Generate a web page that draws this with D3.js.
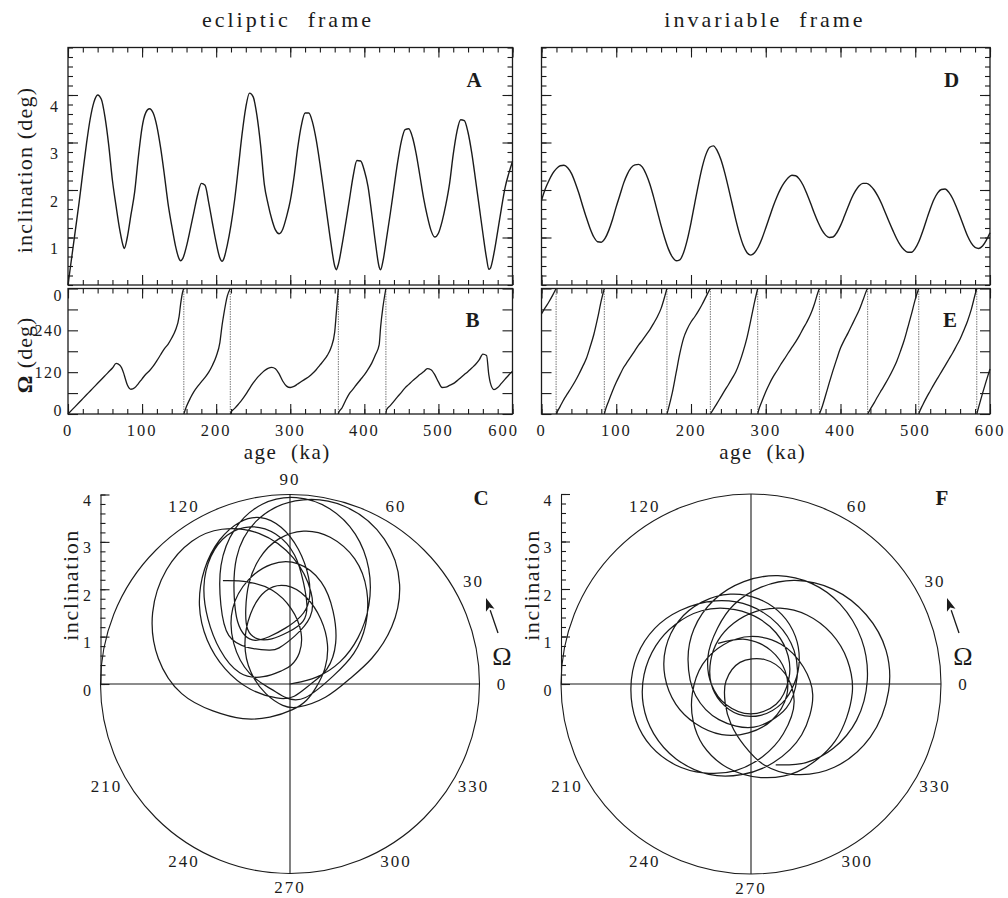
<!DOCTYPE html>
<html>
<head>
<meta charset="utf-8">
<title>Orbital inclination and node in the ecliptic and invariable frames</title>
<script src="https://cdn.jsdelivr.net/npm/d3@7/dist/d3.min.js"></script>
<style>
  html, body { margin: 0; padding: 0; background: #fff; }
  svg { display: block; }
  text { font-family: "Liberation Serif", "Times New Roman", Times, serif; fill: #1b1b1b; }
</style>
</head>
<body>
<svg id="fig" width="1008" height="898" viewBox="0 0 1008 898"></svg>
<script>
// ---------------- data ----------------
// ecliptic frame: age (ka), inclination (deg), node longitude (deg)
const eclAge = [
  0, 5, 10, 15, 20, 25, 30, 35, 40, 45, 50, 55, 60, 65, 70, 75, 76,
  80, 85, 90, 95, 100, 105, 110, 115, 120, 125, 130, 135, 140, 145, 150, 152,
  155, 160, 165, 170, 175, 180, 185, 190, 195, 200, 205, 208,
  210, 215, 220, 225, 230, 235, 240, 245, 250, 255, 260, 265, 270, 275, 280, 285,
  290, 295, 300, 305, 310, 315, 320, 325, 330, 335, 340, 345, 350, 355, 360, 362,
  365, 370, 375, 380, 385, 390, 395, 400, 405, 410, 415, 420, 422,
  425, 430, 435, 440, 445, 450, 455, 460, 465, 470, 475, 480, 485, 490, 495,
  500, 505, 510, 515, 520, 525, 530, 535, 540, 545, 550, 555, 560, 565, 568,
  570, 575, 580, 585, 590, 595, 600
];
const eclInc = [
  0, 0.58, 1.16, 1.74, 2.37, 2.98, 3.5, 3.85, 4.0, 3.91, 3.53, 2.94, 2.2, 1.65, 1.15, 0.8, 0.77,
  1.0, 1.48, 1.96, 2.7, 3.32, 3.63, 3.71, 3.62, 3.34, 2.89, 2.33, 1.72, 1.25, 0.83, 0.55, 0.51,
  0.56, 0.82, 1.17, 1.54, 1.9, 2.14, 2.1, 1.73, 1.3, 0.89, 0.57, 0.5,
  0.54, 0.84, 1.26, 1.8, 2.48, 3.18, 3.74, 4.04, 3.96, 3.57, 2.94, 2.12, 1.71, 1.39, 1.16, 1.08,
  1.18, 1.44, 1.77, 2.26, 2.88, 3.36, 3.62, 3.62, 3.43, 3.06, 2.56, 2.0, 1.43, 0.87, 0.4, 0.32,
  0.44, 0.85, 1.32, 1.81, 2.3, 2.62, 2.61, 2.41, 2.07, 1.5, 0.89, 0.38, 0.32,
  0.49, 0.98, 1.5, 2.05, 2.59, 3.03, 3.27, 3.29, 3.11, 2.76, 2.3, 1.83, 1.45, 1.15, 1.01,
  1.09, 1.34, 1.69, 2.13, 2.75, 3.23, 3.48, 3.46, 3.21, 2.78, 2.23, 1.66, 1.09, 0.56, 0.33,
  0.35, 0.67, 1.13, 1.61, 2.05, 2.35, 2.6
];
const eclNode = [
  0, 11, 22, 33, 44, 55, 66, 77, 88, 99, 110, 121, 132, 145, 140, 118, 111,
  84, 71, 75, 87, 101, 114, 124, 137, 153, 170, 187, 200, 218, 240, 280, 315,
  352, 22, 45, 64, 79, 92, 105, 120, 140, 165, 205, 255,
  282, 338, 5, 16, 28, 41, 56, 73, 89, 103, 114, 124, 131, 134, 130, 115,
  94, 80, 76, 79, 86, 93, 100, 107, 116, 127, 140, 153, 168, 190, 235, 285,
  2, 18, 40, 59, 72, 86, 99, 112, 128, 146, 170, 198, 250,
  305, 12, 24, 37, 50, 62, 75, 85, 95, 104, 113, 121, 130, 127, 113,
  92, 76, 77, 82, 87, 95, 104, 113, 122, 132, 142, 155, 172, 168, 113,
  90, 70, 76, 88, 100, 112, 123
];

// invariable frame: age (ka), inclination (deg), node longitude (deg)
const invAge = [
  0, 5, 10, 15, 20, 25, 30, 35, 40, 45,
  50, 55, 60, 65, 70, 75, 80, 85, 90, 95,
  100, 105, 110, 115, 120, 125, 130, 135, 140, 145,
  150, 155, 160, 165, 170, 175, 180, 185, 190, 195,
  200, 205, 210, 215, 220, 225, 230, 235, 240, 245,
  250, 255, 260, 265, 270, 275, 280, 285, 290, 295,
  300, 305, 310, 315, 320, 325, 330, 335, 340, 345,
  350, 355, 360, 365, 370, 375, 380, 385, 390, 395,
  400, 405, 410, 415, 420, 425, 430, 435, 440, 445,
  450, 455, 460, 465, 470, 475, 480, 485, 490, 495,
  500, 505, 510, 515, 520, 525, 530, 535, 540, 545,
  550, 555, 560, 565, 570, 575, 580, 585, 590, 595,
  600
];
const invInc = [
  1.78, 2.02, 2.2, 2.35, 2.45, 2.51, 2.52, 2.47, 2.35, 2.16,
  1.93, 1.67, 1.42, 1.19, 1.01, 0.91, 0.9, 0.98, 1.15, 1.38,
  1.65, 1.9, 2.15, 2.34, 2.47, 2.53, 2.54, 2.48, 2.33, 2.12,
  1.85, 1.55, 1.25, 0.98, 0.75, 0.59, 0.51, 0.53, 0.68, 0.95,
  1.31, 1.72, 2.12, 2.48, 2.75, 2.9, 2.93, 2.83, 2.64, 2.37,
  2.05, 1.71, 1.37, 1.07, 0.83, 0.68, 0.63, 0.68, 0.8, 0.98,
  1.2, 1.43, 1.66, 1.86, 2.03, 2.16, 2.26, 2.31, 2.3, 2.23,
  2.1, 1.92, 1.72, 1.51, 1.32, 1.16, 1.05, 1.0, 1.01, 1.1,
  1.25, 1.44, 1.64, 1.83, 1.98, 2.09, 2.14, 2.14, 2.09, 2.0,
  1.87, 1.71, 1.52, 1.33, 1.15, 0.98, 0.84, 0.74, 0.69, 0.69,
  0.77, 0.92, 1.13, 1.37, 1.6, 1.8, 1.94, 2.01, 2.02, 1.95,
  1.82, 1.64, 1.44, 1.23, 1.03, 0.88, 0.79, 0.77, 0.82, 0.94,
  1.1
];
const invNode = [
  287, 305, 322, 341, 2, 22, 42, 59, 76, 94,
  114, 136, 159, 192, 228, 274, 326, 8, 38, 66,
  91, 113, 134, 150, 166, 182, 198, 212, 227, 242,
  260, 279, 303, 338, 17, 61, 117, 173, 217, 244,
  264, 279, 296, 315, 336, 357, 14, 31, 49, 67,
  84, 102, 121, 148, 181, 220, 269, 321, 7, 37,
  64, 87, 107, 124, 142, 158, 175, 191, 207, 225,
  245, 264, 286, 315, 350, 18, 53, 90, 125, 158,
  189, 212, 232, 254, 276, 298, 326, 355, 14, 32,
  51, 69, 87, 106, 127, 150, 179, 210, 248, 287,
  329, 2, 26, 47, 66, 85, 103, 121, 139, 157,
  175, 195, 215, 240, 267, 300, 342, 21, 59, 95,
  129
];

// axis ticks and labels
const ageTicks = [0, 100, 200, 300, 400, 500, 600];
const ageTickLabels = ["0", "100", "200", "300", "400", "500", "600"];
const incTicks = [1, 2, 3, 4];
const nodeTicks = [0, 120, 240, 360];
const nodeTickLabels = ["0", "120", "240", "0"];
const polarIncTicks = [0, 1, 2, 3, 4];
const eclAngleLabels = [0, 30, 60, 90, 120, 210, 240, 270, 300, 330];
const invAngleLabels = [0, 30, 60, 120, 210, 240, 270, 300, 330];

// ---------------- drawing ----------------
const ink = "#1b1b1b";
const svg = d3.select("#fig");

const eclXR = [68, 512.5];
const invXR = [541.5, 990];
const incYR = [285, 47.5];
const nodeYR = [414, 288.5];

function tickSet(axisGen, tx, ty, values, len) {
  const g = svg.append("g")
    .attr("transform", `translate(${tx},${ty})`)
    .call(axisGen.tickValues(values).tickSize(-len).tickSizeOuter(0).tickFormat(""));
  g.select(".domain").remove();
  g.selectAll(".tick line").attr("stroke", ink).attr("stroke-width", 1.1);
}

function boxTicks(x, y, xMinor, xMajor, yMinor, yMajor) {
  const [x0, x1] = x.range(), [yb, yt] = y.range();
  [[xMinor, 5], [xMajor, 10]].forEach(([v, L]) => {
    tickSet(d3.axisBottom(x), 0, yb, v, L);
    tickSet(d3.axisTop(x), 0, yt, v, L);
  });
  [[yMinor, 5], [yMajor, 10]].forEach(([v, L]) => {
    tickSet(d3.axisLeft(y), x0, 0, v, L);
    tickSet(d3.axisRight(y), x1, 0, v, L);
  });
}

function frame(x, y) {
  const [x0, x1] = x.range(), [yb, yt] = y.range();
  svg.append("rect")
    .attr("x", x0).attr("y", yt).attr("width", x1 - x0).attr("height", yb - yt)
    .attr("fill", "none").attr("stroke", ink).attr("stroke-width", 1.3);
}

function panelLetter(txt, x, y) {
  svg.append("text").attr("x", x).attr("y", y)
    .attr("text-anchor", "middle").attr("font-size", 21).attr("font-weight", "bold")
    .text(txt);
}

function incPanel(xr, ages, inc, withLabels, letter) {
  const x = d3.scaleLinear().domain([0, 600]).range(xr);
  const y = d3.scaleLinear().domain([0, 5]).range(incYR);
  boxTicks(x, y, d3.range(0, 601, 20), ageTicks, d3.range(0, 5.001, 0.2), incTicks);
  frame(x, y);
  svg.append("path")
    .datum(ages.map((a, k) => [a, inc[k]]))
    .attr("d", d3.line().x(d => x(d[0])).y(d => y(d[1])).curve(d3.curveMonotoneX))
    .attr("fill", "none").attr("stroke", ink).attr("stroke-width", 1.4);
  if (withLabels) {
    svg.selectAll(null).data(incTicks).join("text")
      .attr("x", xr[0] - 14).attr("y", d => y(d) + 11)
      .attr("text-anchor", "middle").attr("dominant-baseline", "central")
      .attr("font-size", 16).text(d => d);
    svg.append("text")
      .attr("transform", `translate(32,${170}) rotate(-90)`)
      .attr("text-anchor", "middle").attr("font-size", 22).attr("letter-spacing", 1.2)
      .text("inclination (deg)");
  }
  panelLetter(letter, xr[1] - 38.5, 87);
}

function nodePanel(xr, ages, node, withLabels, letter) {
  const x = d3.scaleLinear().domain([0, 600]).range(xr);
  const y = d3.scaleLinear().domain([0, 360]).range(nodeYR);
  boxTicks(x, y, d3.range(0, 601, 20), ageTicks, [], d3.range(0, 361, 60));
  frame(x, y);

  // split the node track where it wraps past 360 deg
  const segs = [], joins = [];
  let cur = [[ages[0], node[0]]];
  for (let k = 1; k < ages.length; k++) {
    const a0 = ages[k - 1], v0 = node[k - 1], a1 = ages[k], v1 = node[k];
    if (v0 - v1 > 180) {
      const ac = a0 + (360 - v0) / (v1 + 360 - v0) * (a1 - a0);
      cur.push([ac, 360]);
      segs.push(cur);
      joins.push(ac);
      cur = [[ac, 0]];
    }
    cur.push([a1, v1]);
  }
  segs.push(cur);

  svg.selectAll(null).data(joins).join("line")
    .attr("x1", d => x(d)).attr("x2", d => x(d))
    .attr("y1", y(360)).attr("y2", y(0))
    .attr("stroke", "#555").attr("stroke-width", 0.8).attr("stroke-dasharray", "1.5,1");
  const line = d3.line().x(d => x(d[0])).y(d => y(d[1])).curve(d3.curveMonotoneX);
  svg.selectAll(null).data(segs).join("path")
    .attr("d", line).attr("fill", "none").attr("stroke", ink).attr("stroke-width", 1.3);

  if (withLabels) {
    svg.selectAll(null).data(nodeTicks).join("text")
      .attr("x", xr[0] - 5)
      .attr("y", d => Math.min(Math.max(y(d), nodeYR[1] + 7), nodeYR[0] - 4))
      .attr("text-anchor", "end").attr("dominant-baseline", "central")
      .attr("font-size", 16).attr("letter-spacing", 1.5)
      .text((d, k) => nodeTickLabels[k]);
    const lab = svg.append("text")
      .attr("transform", `translate(32,${355}) rotate(-90)`)
      .attr("text-anchor", "middle").attr("font-size", 22).attr("letter-spacing", 1);
    lab.append("tspan").attr("font-weight", "bold").text("Ω");
    lab.append("tspan").text(" (deg)");
  }
  // age axis labels; the last one is pulled in when a neighbouring panel follows
  svg.selectAll(null).data(ageTicks).join("text")
    .attr("x", d => x(d) - (withLabels && d === 600 ? 9 : 0)).attr("y", 435.5)
    .attr("text-anchor", "middle").attr("font-size", 16.5).attr("letter-spacing", 2)
    .text((d, k) => ageTickLabels[k]);
  svg.append("text")
    .attr("x", (xr[0] + xr[1]) / 2 - 3).attr("y", 458.5)
    .attr("text-anchor", "middle").attr("font-size", 21).attr("letter-spacing", 1.5)
    .style("white-space", "pre")
    .text("age  (ka)");
  panelLetter(letter, xr[1] - 40, 327);
}

function polarPanel(cx, cy, r, ages, inc, node, angleLabels, letter, curve) {
  const rad = d3.scaleLinear().domain([0, 4]).range([0, r]);
  const g = svg.append("g").attr("transform", `translate(${cx},${cy})`);
  g.append("circle").attr("r", r)
    .attr("fill", "none").attr("stroke", ink).attr("stroke-width", 1.1);
  g.append("line").attr("x1", -r).attr("x2", r).attr("y1", 0).attr("y2", 0)
    .attr("stroke", ink).attr("stroke-width", 1.1);
  g.append("line").attr("x1", 0).attr("x2", 0).attr("y1", -r).attr("y2", r)
    .attr("stroke", ink).attr("stroke-width", 1.1);

  // inclination scale along the left edge
  const yA = d3.scaleLinear().domain([0, 4]).range([cy, cy - r]);
  const ax = cx - r;
  const minor = svg.append("g").attr("transform", `translate(${ax},0)`)
    .call(d3.axisRight(yA).tickValues(d3.range(0, 4.001, 0.2)).tickSize(5).tickSizeOuter(0).tickFormat(""));
  minor.select(".domain").attr("stroke", ink).attr("stroke-width", 1.1);
  minor.selectAll(".tick line").attr("stroke", ink).attr("stroke-width", 1.1);
  const major = svg.append("g").attr("transform", `translate(${ax},0)`)
    .call(d3.axisRight(yA).tickValues(polarIncTicks).tickSize(9).tickSizeOuter(0).tickFormat(""));
  major.select(".domain").remove();
  major.selectAll(".tick line").attr("stroke", ink).attr("stroke-width", 1.1);
  svg.selectAll(null).data(polarIncTicks).join("text")
    .attr("x", ax - 13.5).attr("y", d => yA(d) + 6)
    .attr("text-anchor", "middle").attr("dominant-baseline", "central")
    .attr("font-size", 16).text(d => d);
  svg.append("text")
    .attr("transform", `translate(${ax - 22.5},${cy - 99}) rotate(-90)`)
    .attr("text-anchor", "middle").attr("font-size", 22).attr("letter-spacing", 1.6)
    .text("inclination");

  // node angle labels around the rim (slightly wider than tall)
  const Rx = r + 22.5, Ry = r + 15;
  g.selectAll(null).data(angleLabels).join("text")
    .attr("x", d => Rx * Math.cos(d * Math.PI / 180))
    .attr("y", d => Math.min(-Ry * Math.sin(d * Math.PI / 180), r + 14))
    .attr("text-anchor", "middle").attr("dominant-baseline", "central")
    .attr("font-size", 17).attr("letter-spacing", 2).text(d => d);

  // direction of increasing node
  const tail = [208, -51], tip = [196, -86];
  const ang = Math.atan2(tip[1] - tail[1], tip[0] - tail[0]);
  const hl = 13, hw = 4.5;
  const bx = tip[0] - hl * Math.cos(ang), by = tip[1] - hl * Math.sin(ang);
  g.append("line").attr("x1", tail[0]).attr("y1", tail[1]).attr("x2", bx).attr("y2", by)
    .attr("stroke", ink).attr("stroke-width", 1.3);
  g.append("path")
    .attr("d", `M${tip[0]},${tip[1]}L${bx + hw * Math.sin(ang)},${by - hw * Math.cos(ang)}L${bx + 3 * Math.cos(ang)},${by + 3 * Math.sin(ang)}L${bx - hw * Math.sin(ang)},${by + hw * Math.cos(ang)}Z`)
    .attr("fill", ink);
  g.append("text").attr("x", 212).attr("y", -28)
    .attr("text-anchor", "middle").attr("dominant-baseline", "central")
    .attr("font-size", 26).text("Ω");

  // trajectory of the orbital pole
  const traj = ages.map((a, k) => ({ inc: inc[k], node: node[k] }));
  g.append("path").datum(traj)
    .attr("d", d3.lineRadial()
      .angle(d => (90 - d.node) * Math.PI / 180)
      .radius(d => rad(d.inc))
      .curve(curve))
    .attr("fill", "none").attr("stroke", ink).attr("stroke-width", 1.25);

  panelLetter(letter, cx + 191, cy - 179);
}

// column titles
svg.append("text").attr("x", 288).attr("y", 27)
  .attr("text-anchor", "middle").attr("font-size", 22).attr("letter-spacing", 3)
  .style("white-space", "pre").text("ecliptic  frame");
svg.append("text").attr("x", 765).attr("y", 27)
  .attr("text-anchor", "middle").attr("font-size", 22).attr("letter-spacing", 3)
  .style("white-space", "pre").text("invariable  frame");

incPanel(eclXR, eclAge, eclInc, true, "A");
nodePanel(eclXR, eclAge, eclNode, true, "B");
incPanel(invXR, invAge, invInc, false, "D");
nodePanel(invXR, invAge, invNode, false, "E");
polarPanel(290, 684, 189.5, eclAge, eclInc, eclNode, eclAngleLabels, "C", d3.curveBasis);
polarPanel(751, 684, 190, invAge, invInc, invNode, invAngleLabels, "F", d3.curveCatmullRom.alpha(0.5));
</script>
</body>
</html>
